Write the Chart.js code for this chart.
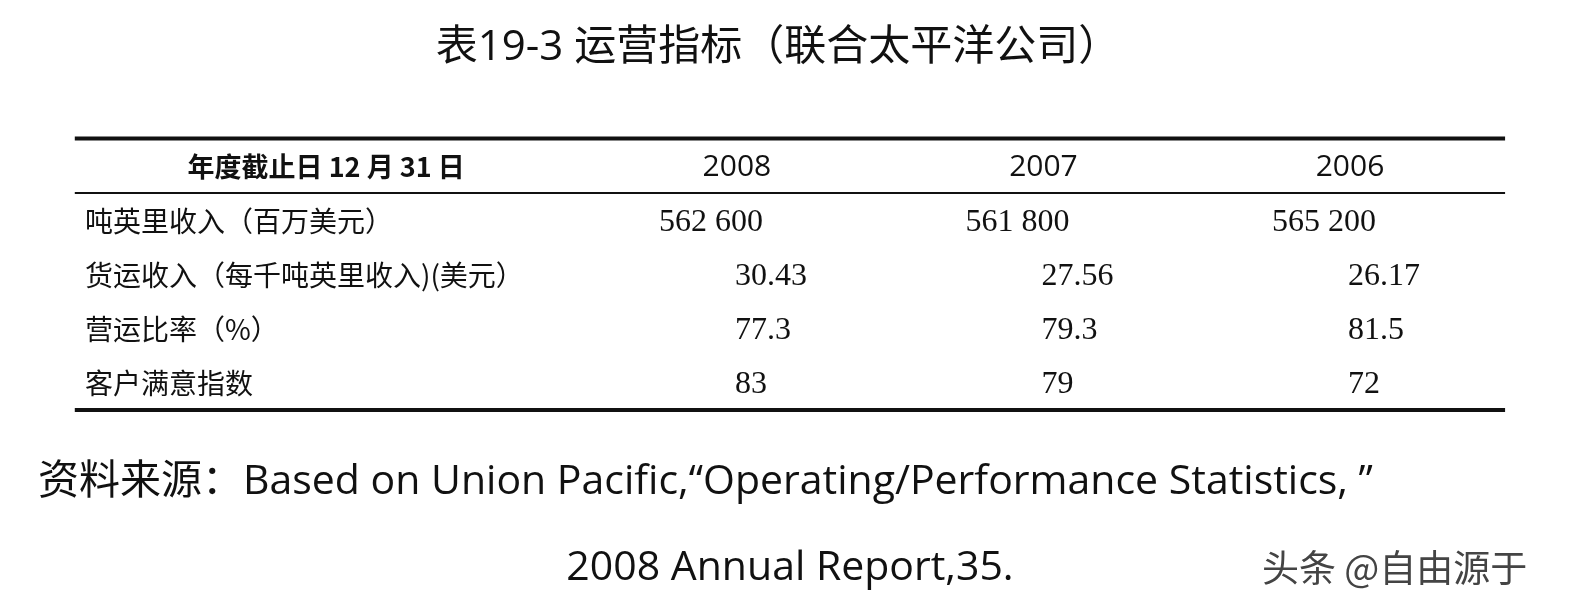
<!DOCTYPE html>
<html><head><meta charset="utf-8">
<script src="https://cdn.jsdelivr.net/npm/chart.js@4"></script>
<style>html,body{margin:0;padding:0;background:#fff}#w{width:1573px;height:608px}</style>
</head><body><div id="w"><canvas id="c"></canvas></div>
<script>
const title = "表19-3 运营指标（联合太平洋公司）";
const headerLabel = "年度截止日 12 月 31 日";
const years = ["2008", "2007", "2006"];
const rowLabels = ["吨英里收入（百万美元）", "货运收入（每千吨英里收入)(美元）", "营运比率（%）", "客户满意指数"];
const col2008 = ["562 600", "30.43", "77.3", "83"];
const col2007 = ["561 800", "27.56", "79.3", "79"];
const col2006 = ["565 200", "26.17", "81.5", "72"];
const source1 = "资料来源：Based on Union Pacific,“Operating/Performance Statistics, ”";
const source2 = "2008 Annual Report,35.";
const watermark = "头条 @自由源于";

const cols = [col2008, col2007, col2006];
const pts = [];
cols.forEach((c, ci) => c.forEach((v, ri) => pts.push({x: ci + 1, y: ri + 1, t: v})));

const SANS = '"Noto Sans CJK SC","Noto Sans",sans-serif';
const WIDE = '"Open Sans","Noto Sans CJK SC",sans-serif';
const SERIF = '"Liberation Serif","DejaVu Serif",serif';

const tablePlugin = {
  id: 'table',
  afterDraw(chart) {
    const ctx = chart.ctx, xs = chart.scales.x, ys = chart.scales.y;
    const yp = r => ys.getPixelForValue(r);
    const xl = xs.getPixelForValue(-1.16), xr = xs.getPixelForValue(3.506);
    ctx.save();
    ctx.fillStyle = '#111'; ctx.strokeStyle = '#111';
    ctx.font = '42px ' + WIDE; ctx.textAlign = 'center'; ctx.textBaseline = 'middle';
    ctx.fillText(title, 778, 48);
    ctx.lineWidth = 4;
    ctx.beginPath(); ctx.moveTo(xl, yp(-0.53)); ctx.lineTo(xr, yp(-0.53)); ctx.stroke();
    ctx.beginPath(); ctx.moveTo(xl, yp(4.5)); ctx.lineTo(xr, yp(4.5)); ctx.stroke();
    ctx.lineWidth = 2;
    ctx.beginPath(); ctx.moveTo(xl, yp(0.48)); ctx.lineTo(xr, yp(0.48)); ctx.stroke();
    ctx.font = 'bold 27px ' + SANS;
    ctx.fillText(headerLabel, xs.getPixelForValue(-0.34), yp(0));
    ctx.font = '30px ' + WIDE;
    years.forEach((y, i) => ctx.fillText(y, xs.getPixelForValue(i + 1), yp(0)));
    ctx.textAlign = 'left';
    ctx.font = '28px ' + SANS;
    rowLabels.forEach((l, i) => ctx.fillText(l, xs.getPixelForValue(-1.127), yp(i + 1)));
    ctx.font = '32px ' + SERIF;
    const meta = chart.getDatasetMeta(0);
    meta.data.forEach((el, i) => {
      const p = pts[i];
      ctx.fillText(p.t, el.x + (p.y === 1 ? -76 : 0) - 2, el.y + 2);
    });
    ctx.font = '41px ' + WIDE;
    ctx.fillText(source1, 38, 482);
    ctx.textAlign = 'center';
    ctx.fillText(source2, 790, 568);
    ctx.textAlign = 'left';
    ctx.font = '37px ' + SANS; ctx.fillStyle = '#444';
    ctx.fillText(watermark, 1262, 568);
    ctx.restore();
  }
};

new Chart(document.getElementById('c'), {
  type: 'scatter',
  data: { datasets: [{ data: pts, pointRadius: 0, pointHoverRadius: 0 }] },
  options: {
    responsive: true, maintainAspectRatio: false, animation: false,
    layout: { padding: 0 },
    plugins: { legend: { display: false }, tooltip: { enabled: false } },
    events: [],
    scales: {
      x: { type: 'linear', display: false, min: -1.404, max: (1573 - 737) / 306.5 + 1 },
      y: { type: 'linear', display: false, reverse: true, min: -167 / 54, max: (608 - 167) / 54 }
    }
  },
  plugins: [tablePlugin]
});
</script></body></html>
